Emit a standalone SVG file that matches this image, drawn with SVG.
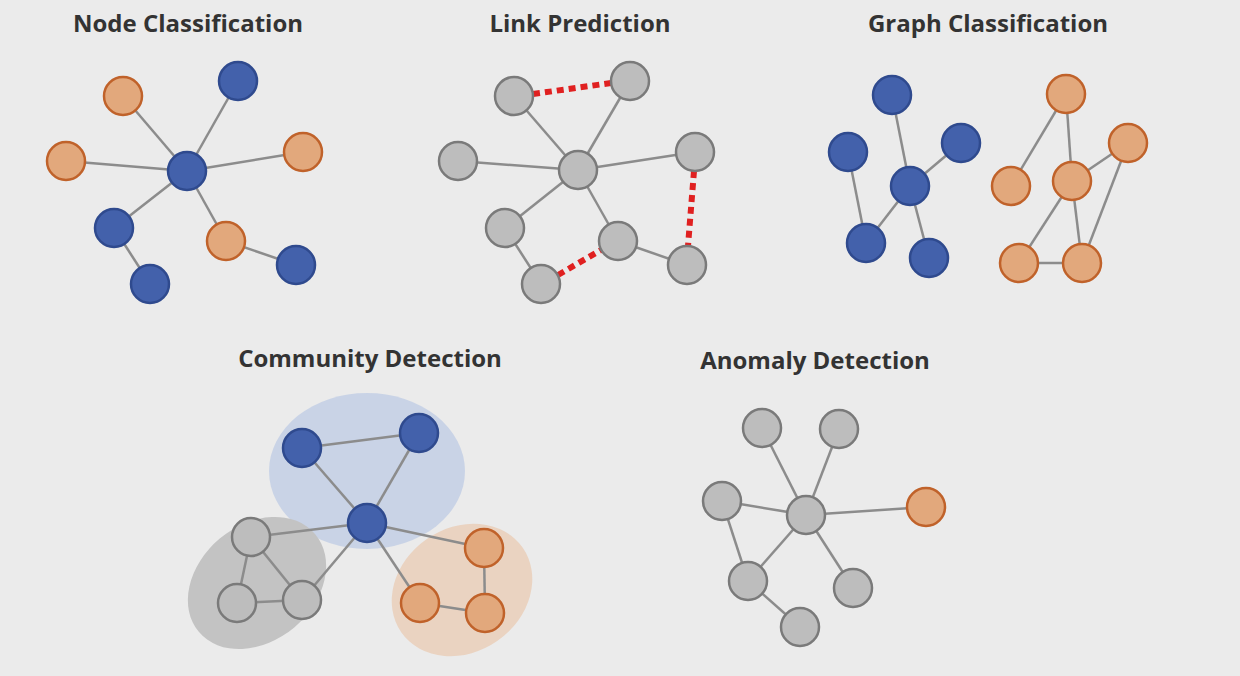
<svg xmlns="http://www.w3.org/2000/svg" width="1240" height="676" viewBox="0 0 1240 676">
<style>
text{font-family:"Open Sans","Liberation Sans",sans-serif;font-weight:bold;font-size:24px;fill:#333;text-anchor:middle}
.e line{stroke:#8c8c8c;stroke-width:2.5}
.r line{stroke:#e02020;stroke-width:6;stroke-dasharray:7,5}
.b{fill:#4361ab;stroke:#2f4a8e;stroke-width:2.5}
.o{fill:#e2a87c;stroke:#c0622a;stroke-width:2.5}
.g{fill:#bdbdbd;stroke:#7a7a7a;stroke-width:2.5}
</style>
<rect width="1240" height="676" fill="#ebebeb"/>
<text x="188" y="32">Node Classification</text>
<text x="580" y="32">Link Prediction</text>
<text x="988" y="32">Graph Classification</text>
<text x="370" y="367">Community Detection</text>
<text x="815" y="369">Anomaly Detection</text>
<g id="hulls">
<ellipse cx="367" cy="471" rx="98" ry="78" fill="#c5d0e6" opacity="0.9"/>
<ellipse cx="257" cy="583" rx="76" ry="58" transform="rotate(-40 257 583)" fill="#c3c3c3"/>
<ellipse cx="462" cy="590" rx="74" ry="62" transform="rotate(-35 462 590)" fill="#ead3c1"/>
</g>
<g id="connectors" class="e">
<line x1="187" y1="171" x2="123" y2="96"/><line x1="187" y1="171" x2="238" y2="81"/><line x1="187" y1="171" x2="66" y2="161"/><line x1="187" y1="171" x2="303" y2="152"/><line x1="187" y1="171" x2="114" y2="228"/><line x1="187" y1="171" x2="226" y2="241"/><line x1="114" y1="228" x2="150" y2="284"/><line x1="226" y1="241" x2="296" y2="265"/>
<line x1="578" y1="170" x2="514" y2="96"/><line x1="578" y1="170" x2="630" y2="81"/><line x1="578" y1="170" x2="458" y2="161"/><line x1="578" y1="170" x2="695" y2="152"/><line x1="578" y1="170" x2="505" y2="228"/><line x1="578" y1="170" x2="618" y2="241"/><line x1="505" y1="228" x2="541" y2="284"/><line x1="618" y1="241" x2="687" y2="265"/>
<line x1="910" y1="186" x2="892" y2="95"/><line x1="910" y1="186" x2="961" y2="143"/><line x1="910" y1="186" x2="866" y2="243"/><line x1="910" y1="186" x2="929" y2="258"/><line x1="848" y1="152" x2="866" y2="243"/>
<line x1="1066" y1="94" x2="1011" y2="186"/><line x1="1066" y1="94" x2="1072" y2="181"/><line x1="1072" y1="181" x2="1128" y2="143"/><line x1="1072" y1="181" x2="1082" y2="263"/><line x1="1072" y1="181" x2="1019" y2="263"/><line x1="1019" y1="263" x2="1082" y2="263"/><line x1="1128" y1="143" x2="1082" y2="263"/>
<line x1="302" y1="448" x2="419" y2="433"/><line x1="302" y1="448" x2="367" y2="523"/><line x1="419" y1="433" x2="367" y2="523"/><line x1="367" y1="523" x2="251" y2="537"/><line x1="367" y1="523" x2="302" y2="600"/><line x1="367" y1="523" x2="484" y2="548"/><line x1="367" y1="523" x2="420" y2="603"/><line x1="251" y1="537" x2="237" y2="603"/><line x1="251" y1="537" x2="302" y2="600"/><line x1="237" y1="603" x2="302" y2="600"/><line x1="484" y1="548" x2="485" y2="613"/><line x1="420" y1="603" x2="485" y2="613"/>
<line x1="806" y1="515" x2="762" y2="428"/><line x1="806" y1="515" x2="839" y2="429"/><line x1="806" y1="515" x2="722" y2="501"/><line x1="806" y1="515" x2="926" y2="507"/><line x1="806" y1="515" x2="748" y2="581"/><line x1="806" y1="515" x2="853" y2="588"/><line x1="722" y1="501" x2="748" y2="581"/><line x1="748" y1="581" x2="800" y2="627"/>
<g class="r"><line x1="533" y1="94" x2="611" y2="83"/><line x1="558" y1="275" x2="601" y2="250"/><line x1="694" y1="171" x2="688" y2="246"/></g>
</g>
<g id="nodes">
<g id="nc"><circle class="o" cx="123" cy="96" r="19"/><circle class="o" cx="66" cy="161" r="19"/><circle class="o" cx="303" cy="152" r="19"/><circle class="o" cx="226" cy="241" r="19"/><circle class="b" cx="238" cy="81" r="19"/><circle class="b" cx="187" cy="171" r="19"/><circle class="b" cx="114" cy="228" r="19"/><circle class="b" cx="150" cy="284" r="19"/><circle class="b" cx="296" cy="265" r="19"/></g>
<g id="lp"><circle class="g" cx="514" cy="96" r="19"/><circle class="g" cx="630" cy="81" r="19"/><circle class="g" cx="458" cy="161" r="19"/><circle class="g" cx="578" cy="170" r="19"/><circle class="g" cx="695" cy="152" r="19"/><circle class="g" cx="505" cy="228" r="19"/><circle class="g" cx="618" cy="241" r="19"/><circle class="g" cx="541" cy="284" r="19"/><circle class="g" cx="687" cy="265" r="19"/></g>
<g id="gc"><circle class="b" cx="892" cy="95" r="19"/><circle class="b" cx="848" cy="152" r="19"/><circle class="b" cx="961" cy="143" r="19"/><circle class="b" cx="910" cy="186" r="19"/><circle class="b" cx="866" cy="243" r="19"/><circle class="b" cx="929" cy="258" r="19"/><circle class="o" cx="1066" cy="94" r="19"/><circle class="o" cx="1011" cy="186" r="19"/><circle class="o" cx="1072" cy="181" r="19"/><circle class="o" cx="1128" cy="143" r="19"/><circle class="o" cx="1019" cy="263" r="19"/><circle class="o" cx="1082" cy="263" r="19"/></g>
<g id="cd"><circle class="b" cx="302" cy="448" r="19"/><circle class="b" cx="419" cy="433" r="19"/><circle class="b" cx="367" cy="523" r="19"/><circle class="g" cx="251" cy="537" r="19"/><circle class="g" cx="237" cy="603" r="19"/><circle class="g" cx="302" cy="600" r="19"/><circle class="o" cx="484" cy="548" r="19"/><circle class="o" cx="420" cy="603" r="19"/><circle class="o" cx="485" cy="613" r="19"/></g>
<g id="ad"><circle class="g" cx="762" cy="428" r="19"/><circle class="g" cx="839" cy="429" r="19"/><circle class="g" cx="722" cy="501" r="19"/><circle class="g" cx="806" cy="515" r="19"/><circle class="o" cx="926" cy="507" r="19"/><circle class="g" cx="748" cy="581" r="19"/><circle class="g" cx="853" cy="588" r="19"/><circle class="g" cx="800" cy="627" r="19"/></g>
</g>
</svg>
